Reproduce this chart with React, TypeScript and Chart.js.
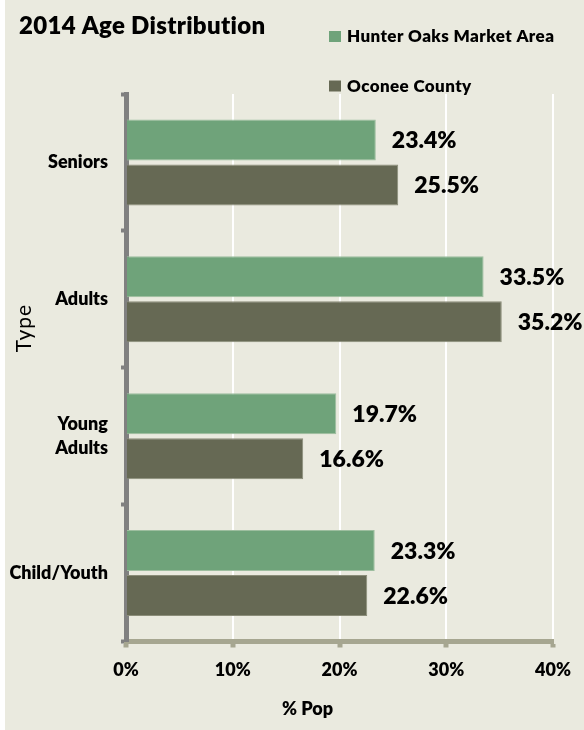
import React, { useEffect, useRef } from "react";
import { Chart, registerables } from "chart.js";

Chart.register(...registerables);

const chartTitle = "2014 Age Distribution";
const categories: (string | string[])[] = ["Seniors", "Adults", ["Young", "Adults"], "Child/Youth"];
const seriesNames = ["Hunter Oaks Market Area", "Oconee County"];
const hunterOaks = [23.4, 33.5, 19.7, 23.3];
const oconee = [25.5, 35.2, 16.6, 22.6];
const xTickValues = [0, 10, 20, 30, 40];
const xAxisTitle = "% Pop";
const yAxisTitle = "Type";

const BG = "#EAEADF";
const GREEN = "#6FA37A";
const DARK = "#666954";
const FONT = "Lato, 'Open Sans', sans-serif";
const W = "800";

export default function App() {
  const ref = useRef<HTMLCanvasElement | null>(null);

  useEffect(() => {
    const canvas = ref.current;
    if (!canvas) return;

    const decor = {
      id: "decor",
      beforeDraw(chart: any) {
        const ctx = chart.ctx;
        ctx.save();
        ctx.fillStyle = BG;
        ctx.fillRect(0, 0, chart.width, chart.height);
        ctx.restore();
      },
      afterDraw(chart: any) {
        const ctx = chart.ctx;
        const area = chart.chartArea;
        ctx.save();
        ctx.fillStyle = "#000";
        // title
        ctx.letterSpacing = "0.3px";
        ctx.font = `${W} 24px ${FONT}`;
        ctx.textAlign = "left";
        ctx.textBaseline = "alphabetic";
        ctx.fillText(chartTitle, 14, 34);
        // legend
        const colors = [GREEN, DARK];
        const legendY = [42, 91.5];
        ctx.letterSpacing = "0.4px";
        ctx.font = `${W} 17px ${FONT}`;
        seriesNames.forEach((name, i) => {
          ctx.fillStyle = colors[i];
          ctx.fillRect(324, legendY[i] - 11, 12, 11);
          ctx.fillStyle = "#000";
          ctx.fillText(name, 342, legendY[i]);
        });
        // x axis title
        ctx.letterSpacing = "0px";
        ctx.font = `${W} 18px ${FONT}`;
        ctx.textAlign = "center";
        ctx.textBaseline = "middle";
        ctx.fillText(xAxisTitle, area.left + 181.5, 709);
        // y axis title
        ctx.letterSpacing = "1px";
        ctx.font = `21px ${FONT}`;
        ctx.translate(19.5, 328);
        ctx.rotate(-Math.PI / 2);
        ctx.fillText(yAxisTitle, 0, 0);
        ctx.restore();
      },
    };

    const valueLabels = {
      id: "valueLabels",
      afterDatasetsDraw(chart: any) {
        const ctx = chart.ctx;
        ctx.save();
        ctx.font = `${W} 23px ${FONT}`;
        ctx.fillStyle = "#000";
        ctx.textAlign = "left";
        ctx.textBaseline = "middle";
        chart.data.datasets.forEach((ds: any, di: number) => {
          const meta = chart.getDatasetMeta(di);
          meta.data.forEach((el: any, i: number) => {
            ctx.fillText(ds.data[i].toFixed(1) + "%", el.x + 16, el.y + 1);
          });
        });
        ctx.restore();
      },
    };

    const chart = new Chart(canvas, {
      type: "bar",
      data: {
        labels: categories,
        datasets: [
          {
            label: seriesNames[0],
            data: hunterOaks,
            backgroundColor: GREEN,
            borderColor: "#9DBE9F",
            borderWidth: 1,
            borderSkipped: "start",
            categoryPercentage: 0.658,
            barPercentage: 0.91,
          },
          {
            label: seriesNames[1],
            data: oconee,
            backgroundColor: DARK,
            borderColor: "#8B8D79",
            borderWidth: 1,
            borderSkipped: "start",
            categoryPercentage: 0.658,
            barPercentage: 0.91,
          },
        ],
      },
      options: {
        indexAxis: "y",
        responsive: false,
        animation: false,
        maintainAspectRatio: false,
        layout: { padding: { top: 94, right: 31, left: 0, bottom: 0 } },
        plugins: {
          legend: { display: false },
          title: { display: false },
          tooltip: { enabled: false },
        },
        scales: {
          x: {
            min: 0,
            max: 40,
            afterBuildTicks(scale: any) {
              scale.ticks = xTickValues.map((v) => ({ value: v }));
            },
            afterFit(scale: any) {
              scale.height = 88.5;
            },
            ticks: {
              callback: (v: any) => v + "%",
              color: "#000",
              padding: 12,
              font: { family: FONT, size: 18, weight: W },
            },
            grid: {
              color: "#FFFFFF",
              lineWidth: 2,
              drawTicks: true,
              tickLength: 6,
              tickWidth: 5,
              tickColor: "#A6A690",
            },
            border: { display: true, color: "#A6A690", width: 5 },
          },
          y: {
            z: 1,
            afterFit(scale: any) {
              scale.width = 121;
            },
            ticks: {
              color: "#000",
              padding: 13,
              font: { family: FONT, size: 18, weight: W, lineHeight: 1.33 },
            },
            grid: {
              drawOnChartArea: false,
              drawTicks: true,
              tickLength: 5,
              tickWidth: 4,
              tickColor: "#808080",
            },
            border: { display: true, color: "#808080", width: 5 },
          },
        },
      },
      plugins: [decor, valueLabels],
    } as any);

    return () => chart.destroy();
  }, []);

  return (
    <div style={{ position: "absolute", left: 0, top: 0, width: 584, height: 730, background: "#FFFFFF" }}>
      <canvas
        ref={ref}
        width={579}
        height={730}
        style={{ position: "absolute", left: 5, top: 0, width: 579, height: 730 }}
      />
    </div>
  );
}
